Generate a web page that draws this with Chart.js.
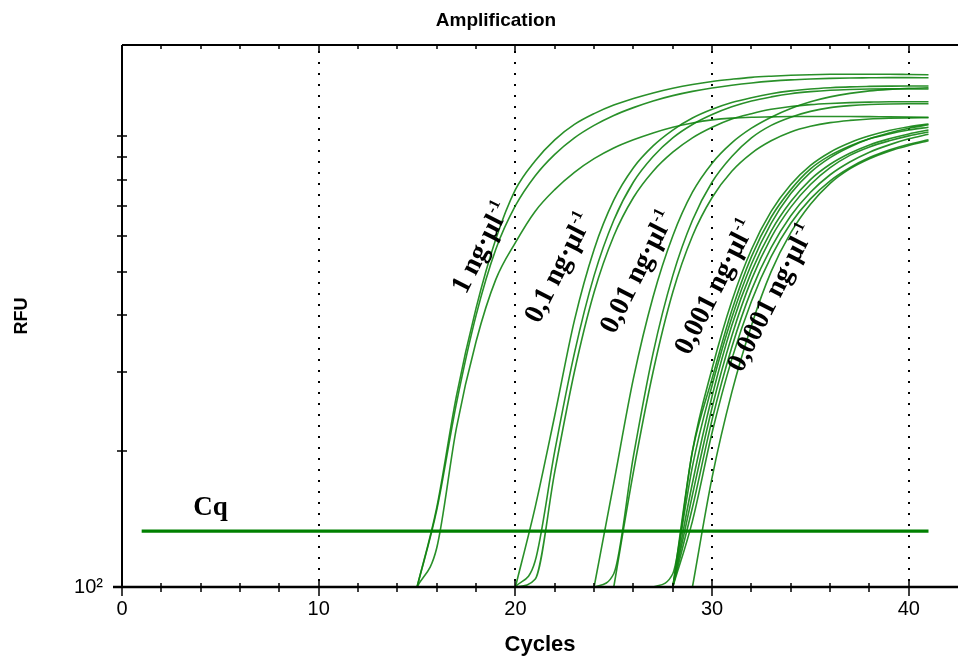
<!DOCTYPE html>
<html>
<head>
<meta charset="utf-8">
<script src="https://cdn.jsdelivr.net/npm/chart.js@4.4.1/dist/chart.umd.min.js"></script>
<style>
    html, body { margin: 0; padding: 0; background: #fff; }
    #amp { display: block; }
</style>
</head>
<body>
<canvas id="amp" width="958" height="659"></canvas>
<script>
// Кривые амплификации (RFU по циклам), по группам концентраций
// значения по циклам, начиная с первого цикла группы; null = кривой ещё нет

const start1ng = 15; // 1 ng/µl
const rfu1ng = [
    [100, 150, 265, 415, 590, 760, 880, 980, 1060, 1120, 1170, 1210, 1245, 1275, 1300, 1320, 1335, 1348, 1356, 1362, 1366, 1369, 1370, 1370, 1370, 1368, 1366],
    [100, 148, 255, 400, 560, 700, 815, 910, 990, 1055, 1110, 1155, 1195, 1228, 1255, 1277, 1295, 1310, 1322, 1331, 1337, 1341, 1344, 1345, 1346, 1346, 1345],
    [100, 122, 225, 350, 480, 580, 680, 760, 830, 890, 940, 980, 1015, 1045, 1068, 1085, 1095, 1100, 1102, 1104, 1104, 1104, 1104, 1103, 1102, 1101, 1100],
];

const start01ng = 20; // 0,1 ng/µl
const rfu01ng = [
    [100, 150, 240, 390, 560, 720, 850, 950, 1030, 1095, 1145, 1185, 1215, 1240, 1258, 1270, 1278, 1284, 1287, 1289, 1290, 1290],
    [100, 114, 200, 330, 490, 650, 790, 900, 990, 1060, 1115, 1160, 1195, 1220, 1240, 1253, 1262, 1267, 1270, 1271, 1271, 1270],
    [100, 104, 180, 300, 450, 600, 730, 835, 920, 990, 1045, 1090, 1120, 1145, 1162, 1173, 1180, 1185, 1188, 1190, 1190, 1190],
];

const start001ng = 24; // 0,01 ng/µl
const rfu001ng = [
    [100, 170, 290, 440, 600, 750, 870, 965, 1040, 1100, 1150, 1190, 1220, 1242, 1258, 1268, 1275, 1278],
    [100, 107, 195, 330, 490, 650, 790, 900, 990, 1055, 1100, 1133, 1155, 1167, 1174, 1177, 1178, 1178],
    [null, 100, 180, 300, 450, 600, 730, 835, 915, 975, 1020, 1050, 1070, 1082, 1090, 1094, 1096, 1097],
];

const start0001ng = 27; // 0,001 ng/µl
const rfu0001ng = [
    [null, 100, 200, 305, 430, 560, 680, 780, 860, 920, 965, 1000, 1028, 1048, 1062],
    [100, 107, 200, 290, 410, 540, 660, 760, 845, 905, 950, 985, 1010, 1030, 1045],
    [null, 100, 185, 280, 395, 520, 640, 745, 830, 895, 945, 985, 1015, 1040, 1058],
    [null, 100, 170, 265, 380, 500, 615, 715, 800, 865, 915, 955, 985, 1010, 1030],
];

const start00001ng = 28; // 0,0001 ng/µl
const rfu00001ng = [
    [100, 160, 250, 360, 480, 595, 695, 780, 850, 905, 945, 975, 1000, 1020],
    [100, 150, 235, 340, 455, 565, 665, 750, 820, 875, 920, 955, 985, 1008],
    [100, 140, 220, 320, 430, 540, 640, 725, 795, 850, 895, 930, 958, 980],
    [null, 100, 175, 270, 380, 500, 610, 705, 785, 845, 890, 925, 952, 975],
];

const cqLevel = 133;          // порог Cq
const cqCycles = [1, 41];     // от и до
const gridCycles = [10, 20, 30, 40];

// подписи групп: текст и точка привязки (цикл, RFU)
const concTexts = ['1 ng·µl', '0,1 ng·µl', '0,01 ng·µl', '0,001 ng·µl', '0,0001 ng·µl'];
const concAnchors = [[18.2, 565], [22.15, 510], [26.15, 499], [30.1, 462], [32.95, 437]];
const cqAnchor = [4.5, 150];

const GREEN = 'rgba(18,132,18,0.9)';
const SERIF = '"Liberation Serif", "Times New Roman", serif';
const SANS = '"Liberation Sans", Arial, sans-serif';

const toPoints = (start, vals) => vals.map((v, i) => ({ x: start + i, y: v })); // значения -> точки

const curveSets = [
    [start1ng, rfu1ng], [start01ng, rfu01ng], [start001ng, rfu001ng],
    [start0001ng, rfu0001ng], [start00001ng, rfu00001ng],
];

const datasets = [{
    label: 'Cq',
    data: cqCycles.map(c => ({ x: c, y: cqLevel })),
    borderColor: '#008000',
    borderWidth: 3.4,
    pointRadius: 0,
}];
curveSets.forEach(([start, group]) => {
    group.forEach(vals => {
        datasets.push({
            data: toPoints(start, vals),
            borderColor: GREEN,
            borderWidth: 1.6,
            pointRadius: 0,
            cubicInterpolationMode: 'monotone',
            spanGaps: false,
        });
    });
});

// рамка, пунктирная сетка, засечки и подписи
const framePlugin = {
    id: 'frame',
    beforeDatasetsDraw(chart) {
        const { ctx, chartArea: a, scales: { x } } = chart;
        ctx.save();
        ctx.strokeStyle = '#000';
        ctx.lineWidth = 2;
        ctx.setLineDash([2, 9]);
        gridCycles.forEach(c => {
            const px = Math.round(x.getPixelForValue(c));
            ctx.beginPath();
            ctx.moveTo(px, a.top + 6);
            ctx.lineTo(px, a.bottom);
            ctx.stroke();
        });
        ctx.restore();
    },
    afterDatasetsDraw(chart) {
        const { ctx, chartArea: a, scales: { x, y } } = chart;
        ctx.save();
        ctx.strokeStyle = '#000';

        // оси
        ctx.lineWidth = 2;
        ctx.beginPath();
        ctx.moveTo(a.left, a.top); ctx.lineTo(a.right, a.top);
        ctx.moveTo(a.left, a.top); ctx.lineTo(a.left, a.bottom);
        ctx.stroke();
        ctx.lineWidth = 2.5;
        ctx.beginPath();
        ctx.moveTo(a.left - 9, a.bottom); ctx.lineTo(a.right, a.bottom);
        ctx.stroke();

        // засечки по X (снизу и сверху)
        ctx.lineWidth = 1.5;
        x.ticks.forEach(t => {
            const v = t.value;
            if (!Number.isInteger(v) || v % 2) return;
            const px = Math.round(x.getPixelForValue(v));
            const major = v % 10 === 0;
            ctx.beginPath();
            ctx.moveTo(px, a.bottom - (major ? 6 : 4));
            ctx.lineTo(px, a.bottom + (major ? 9 : 5));
            ctx.moveTo(px, a.top);
            ctx.lineTo(px, a.top + (major ? 7 : 4));
            ctx.stroke();
        });

        // засечки по Y (логарифмические)
        y.ticks.forEach(t => {
            const v = t.value;
            if (v <= y.min) return;
            const sig = v / Math.pow(10, Math.floor(Math.log10(v) + 1e-9));
            if (Math.abs(sig - Math.round(sig)) > 1e-6) return;
            const py = Math.round(y.getPixelForValue(v));
            ctx.beginPath();
            ctx.moveTo(a.left - 5, py);
            ctx.lineTo(a.left + 5, py);
            ctx.stroke();
        });

        // заголовок
        ctx.fillStyle = '#000';
        ctx.textAlign = 'center';
        ctx.textBaseline = 'middle';
        ctx.font = 'bold 19px ' + SANS;
        ctx.fillText('Amplification', 496, 21);

        // Cq
        ctx.font = 'bold 27px ' + SERIF;
        ctx.fillText('Cq', x.getPixelForValue(cqAnchor[0]), y.getPixelForValue(cqAnchor[1]));

        // подписи концентраций (повернутые, с верхним индексом -1)
        concTexts.forEach((txt, i) => {
            const [c, v] = concAnchors[i];
            const px = x.getPixelForValue(c);
            const py = y.getPixelForValue(v);
            ctx.save();
            ctx.translate(px, py);
            ctx.rotate(-63 * Math.PI / 180);
            ctx.font = 'bold 28px ' + SERIF;
            const w1 = ctx.measureText(txt).width;
            ctx.font = 'bold 16px ' + SERIF;
            const w2 = ctx.measureText('-1').width;
            const left = -(w1 + w2) / 2;
            ctx.textAlign = 'left';
            ctx.textBaseline = 'alphabetic';
            ctx.font = 'bold 28px ' + SERIF;
            ctx.fillText(txt, left, 9);
            ctx.font = 'bold 16px ' + SERIF;
            ctx.fillText('-1', left + w1 + 1, -2);
            ctx.restore();
        });
        ctx.restore();
    },
};

const tickFont = { family: SANS, size: 20 };

new Chart(document.getElementById('amp'), {
    type: 'line',
    data: { datasets },
    options: {
        responsive: false,
        devicePixelRatio: 1,
        animation: false,
        layout: { padding: { top: 45, right: 0, bottom: 0, left: 0 } },
        plugins: { legend: { display: false }, tooltip: { enabled: false } },
        elements: { line: { borderCapStyle: 'butt' } },
        scales: {
            x: {
                type: 'linear',
                min: 0,
                max: 42.5,
                afterFit: (s) => { s.height = 72; s.paddingRight = 0; s.paddingLeft = 0; },
                grid: { display: false, drawTicks: false },
                border: { display: false },
                ticks: {
                    stepSize: 2,
                    autoSkip: false,
                    maxRotation: 0,
                    padding: 10,
                    color: '#000',
                    font: tickFont,
                    callback: (v) => (v % 10 === 0 ? String(v) : ''),
                },
                title: {
                    display: true, text: 'Cycles', color: '#000',
                    font: { family: SANS, size: 22, weight: 'bold' },
                    padding: { top: 0, bottom: 1 },
                },
            },
            y: {
                type: 'logarithmic',
                min: 100,
                max: 1590,
                afterFit: (s) => { s.width = 122; s.paddingTop = 0; s.paddingBottom = 0; },
                grid: { display: false, drawTicks: false },
                border: { display: false },
                ticks: {
                    autoSkip: false,
                    padding: 19,
                    color: '#000',
                    font: tickFont,
                    callback: (v) => (v === 100 ? '10²' : ''),
                },
                title: {
                    display: true, text: 'RFU', color: '#000',
                    font: { family: SANS, size: 18, weight: 'bold' },
                    padding: { top: 11, bottom: 0 },
                },
            },
        },
    },
    plugins: [framePlugin],
});
</script>
</body>
</html>
